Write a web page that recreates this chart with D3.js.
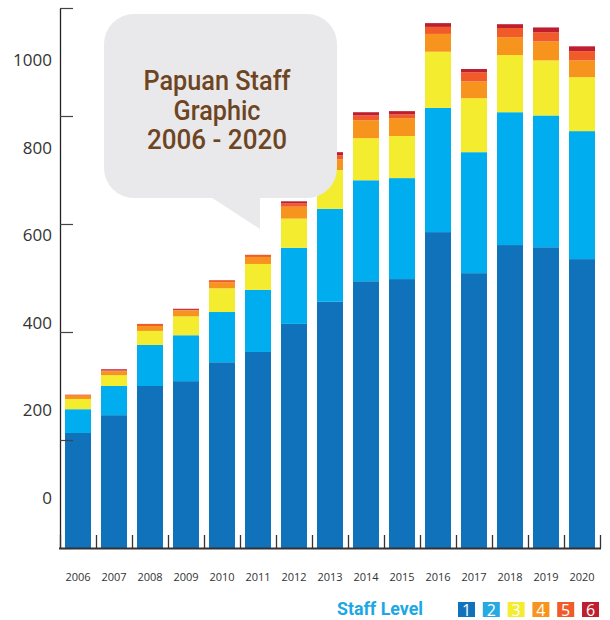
<!DOCTYPE html>
<html>
<head>
<meta charset="utf-8">
<script src="https://cdn.jsdelivr.net/npm/d3@7/dist/d3.min.js"></script>
<style>
  html, body { margin: 0; padding: 0; background: #fff; }
  svg { display: block; }
</style>
</head>
<body>
<svg id="chart" width="610" height="620"></svg>
<script>
// ---- data ----
const years = ["2006","2007","2008","2009","2010","2011","2012","2013","2014","2015","2016","2017","2018","2019","2020"];
const levels = ["1","2","3","4","5","6"];
const level1 = [213, 246, 300, 309, 344, 363, 415, 456, 494, 498, 585, 509, 561, 557, 535];
const level2 = [ 44,  54,  76,  85,  93, 115, 141, 172, 187, 187, 230, 224, 246, 244, 237];
const level3 = [ 19,  20,  26,  35,  44,  48,  54,  72,  78,  78, 104, 100, 106, 102, 100];
const level4 = [  6,   7,   9,  11,  11,  13,  22,  20,  33,  33,  33,  31,  33,  35,  31];
const level5 = [  2,   2,   4,   1,   4,   4,   6,   7,   9,   7,  13,  17,  17,  17,  17];
const level6 = [  0,   2,   0,   2,   0,   0,   4,   6,   6,   6,   7,   6,   7,   9,   9];
const yTicks = [0, 200, 400, 600, 800, 1000];
const titleLines = ["Papuan Staff", "Graphic", "2006 - 2020"];
const legendTitle = "Staff Level";

const colors = ["#1072ba", "#00aeef", "#f3ec2f", "#f7941e", "#f15a29", "#be1e2d"];
const legendColors = ["#1072ba", "#27a9e1", "#f3ec2f", "#f7941e", "#f15a29", "#be1e2d"];

const rows = years.map((yr, i) => ({
  year: yr,
  "1": level1[i], "2": level2[i], "3": level3[i],
  "4": level4[i], "5": level5[i], "6": level6[i]
}));
const series = d3.stack().keys(levels)(rows);

const svg = d3.select("#chart");

const x = d3.scaleBand().domain(years).range([60, 600])
  .paddingInner(10/36).paddingOuter(5/36);
const y = d3.scaleLinear().domain([0, 1000]).range([548, 8]);
const yLabel = d3.scaleLinear().domain([0, 1000]).range([498, 60]);

// bars
svg.append("g").selectAll("g")
  .data(series).join("g")
  .attr("fill", (d, i) => colors[i])
  .selectAll("rect")
  .data(d => d).join("rect")
  .attr("x", d => x(d.data.year))
  .attr("width", x.bandwidth())
  .attr("y", d => y(d[1]))
  .attr("height", d => y(d[0]) - y(d[1]));

// y axis ticks (inside)
const yAx = svg.append("g").attr("transform", "translate(60,0)")
  .call(d3.axisRight(y).tickValues(yTicks).tickSize(13).tickSizeOuter(0).tickFormat(""));
yAx.select(".domain").attr("stroke", "#222").attr("stroke-width", 1.3);
yAx.selectAll(".tick line").attr("stroke", "#444").attr("stroke-width", 1.2);

// y tick labels
const yLab = svg.append("g").attr("transform", "translate(52,0)")
  .call(d3.axisLeft(yLabel).tickValues(yTicks).tickSize(0).tickPadding(0).tickFormat(d3.format("d")));
yLab.select(".domain").remove();
yLab.selectAll("text")
  .attr("font-family", "'Open Sans', 'Noto Sans', sans-serif")
  .attr("font-size", 17).attr("fill", "#333");

// x baseline and small ticks between bars
const bounds = years.map(yv => x(yv) - x.step() * x.paddingInner() / 2);
bounds.push(x(years[years.length - 1]) + x.bandwidth() + x.step() * x.paddingInner() / 2);
svg.append("line")
  .attr("x1", 59).attr("x2", 601).attr("y1", y(0) + 0.5).attr("y2", y(0) + 0.5)
  .attr("stroke", "#333").attr("stroke-width", 2);
svg.append("g").selectAll("line").data(bounds).join("line")
  .attr("x1", d => Math.round(d) + 0.5).attr("x2", d => Math.round(d) + 0.5)
  .attr("y1", y(0) - 13).attr("y2", y(0))
  .attr("stroke", "#333").attr("stroke-width", 1.3);

// x labels
svg.append("g").selectAll("text").data(years).join("text")
  .attr("x", d => x(d) + x.bandwidth() / 2)
  .attr("y", 581)
  .attr("text-anchor", "middle")
  .attr("font-family", "'Open Sans', 'Noto Sans', sans-serif")
  .attr("font-size", 11).attr("fill", "#333")
  .text(d => d);

// speech bubble
const titleWidths = [147, 87, 140];
const bubble = svg.append("g");
bubble.append("rect")
  .attr("x", 104).attr("y", 14).attr("width", 233).attr("height", 184)
  .attr("rx", 30).attr("ry", 30).attr("fill", "#e9e9eb");
bubble.append("path")
  .attr("d", "M200,190 L260,190 L260,229 Z")
  .attr("fill", "#e9e9eb");
bubble.selectAll("text").data(titleLines).join("text")
  .attr("x", 217)
  .attr("y", (d, i) => 90 + i * 29.5)
  .attr("text-anchor", "middle")
  .attr("font-family", "Roboto, 'Noto Sans', sans-serif")
  .attr("font-weight", 500)
  .attr("font-size", 27)
  .attr("textLength", (d, i) => titleWidths[i])
  .attr("lengthAdjust", "spacingAndGlyphs")
  .attr("fill", "#6e4522")
  .text(d => d);

// legend
svg.append("text")
  .attr("x", 337).attr("y", 615)
  .attr("font-family", "Roboto, 'Noto Sans', sans-serif")
  .attr("font-weight", "bold")
  .attr("font-size", 18)
  .attr("textLength", 86)
  .attr("lengthAdjust", "spacingAndGlyphs")
  .attr("fill", "#1ba8e4")
  .text(legendTitle);
const lg = svg.append("g").selectAll("g").data(levels).join("g")
  .attr("transform", (d, i) => `translate(${458 + i * 24.8},602)`);
lg.append("rect").attr("width", 17).attr("height", 15)
  .attr("fill", (d, i) => legendColors[i]);
lg.append("text").attr("x", 8.5).attr("y", 13.5)
  .attr("text-anchor", "middle")
  .attr("font-family", "'Open Sans', 'Noto Sans', sans-serif")
  .attr("font-size", 16).attr("fill", "#fff")
  .text(d => d);
</script>
</body>
</html>
